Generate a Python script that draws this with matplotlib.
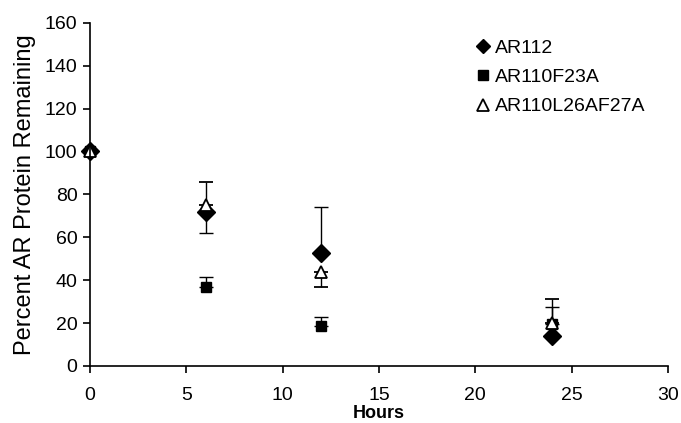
import matplotlib
matplotlib.use("Agg")
import matplotlib.pyplot as plt
from matplotlib.lines import Line2D
import numpy as np

plt.rcParams['font.family'] = ['Liberation Sans', 'DejaVu Sans']

hours = [0, 6, 12, 24]
ar112 = [100, 72, 52.5, 14]
ar112_lo = [0, 10, 0, 0]
ar112_hi = [0, 0, 21.5, 0]

f23a = [100, 37, 18.7, 19.6]
f23a_lo = [0, 0, 0, 0]
f23a_hi = [0, 4.5, 4, 8]

l26 = [100, 75, 44, 20]
l26_lo = [0, 0, 7, 0]
l26_hi = [0, 11, 0, 11]

labels = ['AR112', 'AR110F23A', 'AR110L26AF27A']

fig = plt.figure(figsize=(6.81, 4.23), dpi=100)
ax = fig.add_axes([0.132, 0.135, 0.849, 0.811])

ekw = dict(ecolor='black', elinewidth=1, capsize=5, capthick=1, linestyle='none')
series = [
    (f23a, f23a_lo, f23a_hi, dict(fmt='s', color='black', markersize=7)),
    (ar112, ar112_lo, ar112_hi, dict(fmt='D', color='black', markersize=9)),
    (l26, l26_lo, l26_hi, dict(fmt='^', color='black', markerfacecolor='white',
                               markeredgecolor='black', markeredgewidth=1.3,
                               markersize=9)),
]
for vals, lo, hi, kw in series:
    cont = ax.errorbar(hours, vals, yerr=[lo, hi], **kw, **ekw)
    for art in cont.get_children():
        art.set_clip_on(False)

ax.set_xlim(0, 30)
ax.set_ylim(0, 160)
ax.set_xticks(np.arange(0, 31, 5))
ax.set_yticks(np.arange(0, 161, 20))
for s in ['top', 'right']:
    ax.spines[s].set_visible(False)
ax.spines['left'].set_linewidth(1.2)
ax.spines['bottom'].set_linewidth(1.2)
ax.tick_params(direction='out', length=5, width=1.2, labelsize=14, pad=4)
ax.tick_params(axis='x', pad=10)
ax.set_xlabel('Hours', fontsize=13, fontweight='bold', labelpad=1)
ax.set_ylabel('Percent AR Protein Remaining', fontsize=17, labelpad=6)

handles = [
    Line2D([], [], marker='D', color='black', linestyle='none', markersize=7.5),
    Line2D([], [], marker='s', color='black', linestyle='none', markersize=6.5),
    Line2D([], [], marker='^', color='black', markerfacecolor='white',
           markeredgewidth=1.3, linestyle='none', markersize=8.5),
]
leg = ax.legend(handles, labels, loc='upper left',
                bbox_to_anchor=(0.663, 0.952), frameon=False, fontsize=14,
                handletextpad=0.1, handlelength=1.0, labelspacing=0.6,
                borderaxespad=0, borderpad=0)

fig.savefig('out.png', dpi=100)
